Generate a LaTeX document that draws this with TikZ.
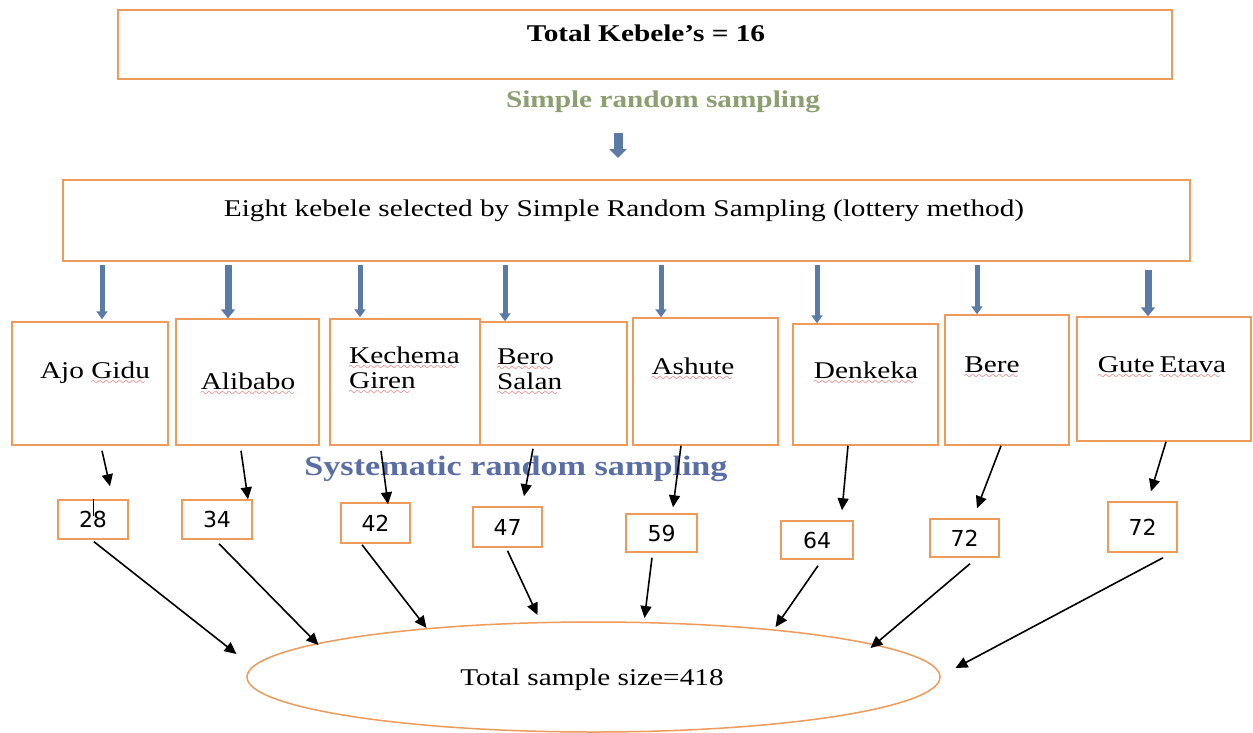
\documentclass[tikz,border=0pt]{standalone}
\usepackage{fontspec}
\setmainfont{Liberation Serif}[FakeStretch=1.22]
\newfontfamily\numfont{DejaVu Sans}
\usetikzlibrary{arrows.meta,shapes.geometric,calc}
\definecolor{boxorange}{HTML}{EE9A5A}
\definecolor{arrowblue}{HTML}{5A7BA6}
\definecolor{sampgreen}{HTML}{8C9F70}
\definecolor{sampblue}{HTML}{5A6EA6}
\definecolor{wavered}{HTML}{E02020}
\font\redwavefont=lasy10 at 10pt
\newcommand\redwave[1]{\leavevmode\setbox0\hbox{#1}\rlap{\hbox to \wd0{\color{wavered}\leaders\hbox{\lower6pt\hbox{\redwavefont\char58}}\hfill}}\box0\relax}
\begin{document}
\begin{tikzpicture}[x=1pt,y=-1pt,
  obox/.style={draw=boxorange,line width=1.5pt,inner sep=0pt},
  nbox/.style={obox,font=\numfont\fontsize{22}{24}\selectfont},
  txt/.style={font=\fontsize{24}{25}\selectfont,inner sep=0pt},
  bigarr/.style={draw=arrowblue,line width=9pt,-{Triangle[width=17pt,length=9pt]},arrowblue},
  blk/.style={draw=arrowblue,line width=5pt,-{Triangle[width=11pt,length=8pt]},arrowblue,shorten <=3pt},
  blkb/.style={draw=arrowblue,line width=7pt,-{Triangle[width=14pt,length=9pt]},arrowblue,shorten <=3pt},
  arr/.style={draw=black,line width=1.6pt,-{Triangle[width=11pt,length=12pt]}}]
\useasboundingbox[fill=white] (0,0) rectangle (1253,732);

% top
\node[obox,minimum width=1054pt,minimum height=69pt] (total) at (645,44.5) {};
\node[txt,font=\bfseries\fontsize{24}{25}\selectfont] (ttot) at (646,33) {Total Kebele’s = 16};
\node[txt,font=\bfseries\fontsize{24}{25}\selectfont,text=sampgreen] (srs) at (663,102) {Simple random sampling};
\coordinate (ba1) at (618,133);
\coordinate (ba2) at (618,158);
\draw[bigarr] (ba1) -- (ba2);

\node[obox,minimum width=1127pt,minimum height=81pt] (sel) at (626.5,220.5) {};
\node[txt] (tsel) at (624,211) {Eight kebele selected by Simple Random Sampling (lottery method)};

% kebele boxes
\node[obox,minimum width=156pt,minimum height=123pt] (k1) at (90,383.5) {};
\node[obox,minimum width=143pt,minimum height=126pt] (k2) at (247.5,382) {};
\node[obox,minimum width=150pt,minimum height=126pt] (k3) at (405,382) {};
\node[obox,minimum width=147pt,minimum height=123pt] (k4) at (553.5,383.5) {};
\node[obox,minimum width=145pt,minimum height=127pt] (k5) at (705.5,381.5) {};
\node[obox,minimum width=145pt,minimum height=121pt] (k6) at (865.5,384.5) {};
\node[obox,minimum width=124pt,minimum height=130pt] (k7) at (1007,380) {};
\node[obox,minimum width=174pt,minimum height=124pt] (k8) at (1164,379) {};

\node[txt] (t1) at (95,373) {Ajo \redwave{Gidu}};
\node[txt] (t2) at (248,384) {\redwave{Alibabo}};
\node[txt,align=left,anchor=west] (t3) at (349,371) {\redwave{Kechema}\\\redwave{Giren}};
\node[txt,align=left,anchor=west] (t4) at (497,372) {\redwave{Bero}\\\redwave{Salan}};
\node[txt] (t5) at (693,369) {\redwave{Ashute}};
\node[txt] (t6) at (866,373) {\redwave{Denkeka}};
\node[txt] (t7) at (992,368) {\redwave{Bere}};
\node[txt] (t8) at (1162,368) {\redwave{Gute}\hspace{0.2em}\redwave{Etava}};

% block arrows
\draw[blk]  (sel.south -| 102,0) -- ([yshift=2pt]k1.north -| 102,0);
\draw[blkb] (sel.south -| 228,0) -- (k2.north -| 228,0);
\draw[blk]  (sel.south -| 360,0) -- ([yshift=1pt]k3.north -| 360,0);
\draw[blk]  (sel.south -| 505,0) -- (k4.north -| 505,0);
\draw[blk]  (sel.south -| 661,0) -- (k5.north -| 661,0);
\draw[blk]  (sel.south -| 817,0) -- (k6.north -| 817,0);
\draw[blk]  (sel.south -| 977,0) -- (k7.north -| 977,0);
\draw[blkb] ([yshift=-5pt]sel.south -| 1148,0) -- (k8.north -| 1148,0);

\node[txt,font=\bfseries\fontsize{28}{30}\selectfont,text=sampblue] (sys) at (516,469) {Systematic random sampling};

% number boxes
\node[nbox,minimum width=70pt,minimum height=39pt] (n1) at (93,519.5) {28};
\node[nbox,minimum width=70pt,minimum height=39pt] (n2) at (217,519.5) {34};
\node[nbox,minimum width=69pt,minimum height=40pt] (n3) at (375.5,523) {42};
\node[nbox,minimum width=69pt,minimum height=40pt] (n4) at (507.5,527) {47};
\node[nbox,minimum width=71pt,minimum height=38pt] (n5) at (661.5,533) {59};
\node[nbox,minimum width=72pt,minimum height=38pt] (n6) at (817,540) {64};
\node[nbox,minimum width=69pt,minimum height=38pt] (n7) at (964.5,538) {72};
\node[nbox,minimum width=69pt,minimum height=50pt] (n8) at (1142.5,527) {72};
\draw[line width=1pt] (n1.north) -- ++(0,17);

% ellipse
\node[ellipse,draw=boxorange,line width=1.5pt,minimum width=693pt,minimum height=110pt,inner sep=0pt] (e) at (593.5,677) {};
\node[txt] (te) at (592,680) {Total sample size=418};

% kebele -> number arrows
\draw[arr] ($(k1.south)+(12,5)$) -- ($(n1.north)+(17,-13)$);
\draw[arr] ($(k2.south)+(-6.5,5)$) -- ($(n2.north)+(31,0)$);
\draw[arr] ($(k3.south)+(-24,5)$) -- ($(n3.north)+(12.5,2)$);
\draw[arr] ($(k4.south)+(-20.5,3)$) -- ($(n4.north)+(16.5,-10)$);
\draw[arr] ($(k5.south)+(-24.5,0)$) -- ($(n5.north)+(11.5,-6)$);
\draw[arr] ($(k6.south)+(-17.5,0)$) -- ($(n6.north)+(25,-10)$);
\draw[arr] ($(k7.south)+(-6,0)$) -- ($(n7.north)+(12.5,-10)$);
\draw[arr] ($(k8.south)+(2,0)$) -- ($(n8.north)+(8.5,-10)$);

% number -> ellipse arrows
\draw[arr] ($(n1.south)+(1,2)$) -- ($(e.center)+(-357,-23)$);
\draw[arr] ($(n2.south)+(2,4)$) -- ($(e.center)+(-275,-32)$);
\draw[arr] ($(n3.south)+(-13.5,1)$) -- ($(e.center)+(-167,-49)$);
\draw[arr] ($(n4.south)+(0,3)$) -- ($(e.center)+(-56,-62)$);
\draw[arr] ($(n5.south)+(-9.5,5)$) -- ($(e.center)+(51,-59)$);
\draw[arr] ($(n6.south)+(1,6)$) -- ($(e.center)+(182,-50)$);
\draw[arr] ($(n7.south)+(5.5,6)$) -- ($(e.center)+(277,-29)$);
\draw[arr] ($(n8.south)+(20.5,5)$) -- ($(e.center)+(362,-9)$);
\end{tikzpicture}
\end{document}
